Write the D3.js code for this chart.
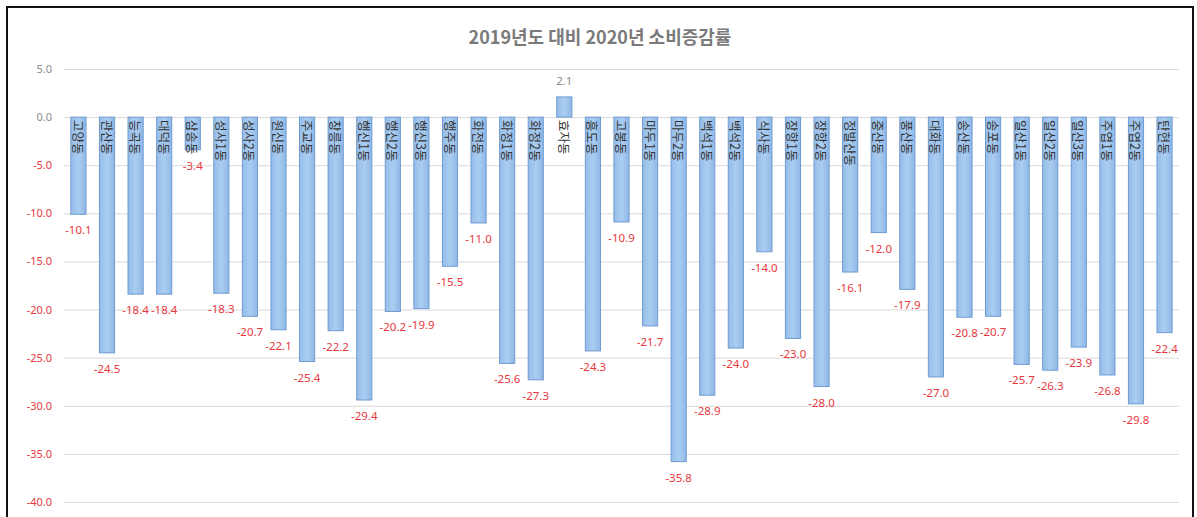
<!DOCTYPE html>
<html>
<head>
<meta charset="utf-8">
<script src="https://cdn.jsdelivr.net/npm/d3@7"></script>
<style>
  body { margin: 0; background: #fff; }
  svg { display: block; font-family: "Noto Sans CJK KR", "Noto Sans", sans-serif; }
</style>
</head>
<body>
<svg id="chart" width="1197" height="517"></svg>
<script>
// 동별 이름
const dongs = [
  "고양동", "관산동", "능곡동", "대덕동", "삼송동", "성사1동", "성사2동", "원신동", "주교동", "창릉동",
  "행신1동", "행신2동", "행신3동", "행주동", "화전동", "화정1동", "화정2동", "효자동", "흥도동",
  "고봉동", "마두1동", "마두2동", "백석1동", "백석2동", "식사동", "장항1동", "장항2동", "정발산동",
  "중산동", "풍산동", "대화동", "송산동", "송포동", "일산1동", "일산2동", "일산3동", "주엽1동",
  "주엽2동", "탄현동"
];
// 2019 대비 2020 증감률 (%)
const rates = [
  -10.1, -24.5, -18.4, -18.4, -3.4, -18.3, -20.7, -22.1, -25.4, -22.2,
  -29.4, -20.2, -19.9, -15.5, -11.0, -25.6, -27.3, 2.1, -24.3,
  -10.9, -21.7, -35.8, -28.9, -24.0, -14.0, -23.0, -28.0, -16.1,
  -12.0, -17.9, -27.0, -20.8, -20.7, -25.7, -26.3, -23.9, -26.8,
  -29.8, -22.4
];
const yTicks = [5, 0, -5, -10, -15, -20, -25, -30, -35, -40];
const title = "2019년도 대비 2020년 소비증감률";

const data = dongs.map((d, i) => ({ name: d, value: rates[i] }));

const svg = d3.select("#chart");
const margin = { top: 69, left: 64, right: 1179, bottom: 502 };

const x = d3.scaleBand()
  .domain(dongs)
  .range([margin.left, margin.right])
  .paddingInner(0.47)
  .paddingOuter(0.24);

const y = d3.scaleLinear()
  .domain([-40, 5])
  .range([margin.bottom, margin.top]);

const red = "#e8383d";
// 엑셀처럼 하이픈 마이너스 사용
const fmt = (v) => d3.format(".1f")(v).replace("\u2212", "-");

// frame
svg.append("path")
  .attr("d", "M7,517 V7 H1193 V517")
  .attr("fill", "none")
  .attr("stroke", "#111")
  .attr("stroke-width", 2);

// gradient for bars
const defs = svg.append("defs");
const grad = defs.append("linearGradient").attr("id", "barGrad")
  .attr("x1", "0%").attr("x2", "100%").attr("y1", "0%").attr("y2", "0%");
grad.append("stop").attr("offset", "0%").attr("stop-color", "#95bdea");
grad.append("stop").attr("offset", "50%").attr("stop-color", "#aacdf1");
grad.append("stop").attr("offset", "100%").attr("stop-color", "#8fb8e6");

// title
svg.append("text")
  .attr("x", 600)
  .attr("y", 44)
  .attr("text-anchor", "middle")
  .attr("font-size", 18)
  .attr("font-weight", "bold")
  .attr("fill", "#7a7a7a")
  .text(title);

// y axis (grid + labels)
const yAxis = d3.axisLeft(y)
  .tickValues(yTicks)
  .tickSize(-(margin.right - margin.left))
  .tickPadding(12)
  .tickFormat(fmt);

const gy = svg.append("g")
  .attr("transform", `translate(${margin.left},0)`)
  .call(yAxis);
gy.select(".domain").remove();
gy.selectAll(".tick line").attr("stroke", "#d9d9d9");
gy.selectAll(".tick text")
  .attr("font-size", 11)
  .attr("font-family", "'Noto Sans', sans-serif")
  .attr("fill", (d) => (d < 0 ? red : "#8c8c8c"));

// bars
svg.append("g")
  .selectAll("rect")
  .data(data)
  .join("rect")
  .attr("x", (d) => x(d.name))
  .attr("width", x.bandwidth())
  .attr("y", (d) => y(Math.max(0, d.value)))
  .attr("height", (d) => Math.abs(y(d.value) - y(0)))
  .attr("fill", "url(#barGrad)")
  .attr("stroke", "#6f9bd1")
  .attr("stroke-width", 1);

// value labels
svg.append("g")
  .selectAll("text")
  .data(data)
  .join("text")
  .attr("x", (d) => x(d.name) + x.bandwidth() / 2)
  .attr("y", (d) => (d.value < 0 ? y(d.value) + 20 : y(d.value) - 12))
  .attr("text-anchor", "middle")
  .attr("font-size", 11.5)
  .attr("font-family", "'Noto Sans', sans-serif")
  .attr("fill", (d) => (d.value < 0 ? red : "#8c8c8c"))
  .text((d) => fmt(d.value));

// category labels, rotated
svg.append("g")
  .selectAll("text")
  .data(data)
  .join("text")
  .attr("transform", (d) => `translate(${x(d.name) + x.bandwidth() / 2},${y(0) + 3}) rotate(90)`)
  .attr("text-anchor", "start")
  .attr("dominant-baseline", "central")
  .attr("font-size", 12.5)
  .attr("fill", "#333")
  .text((d) => d.name);
</script>
</body>
</html>
